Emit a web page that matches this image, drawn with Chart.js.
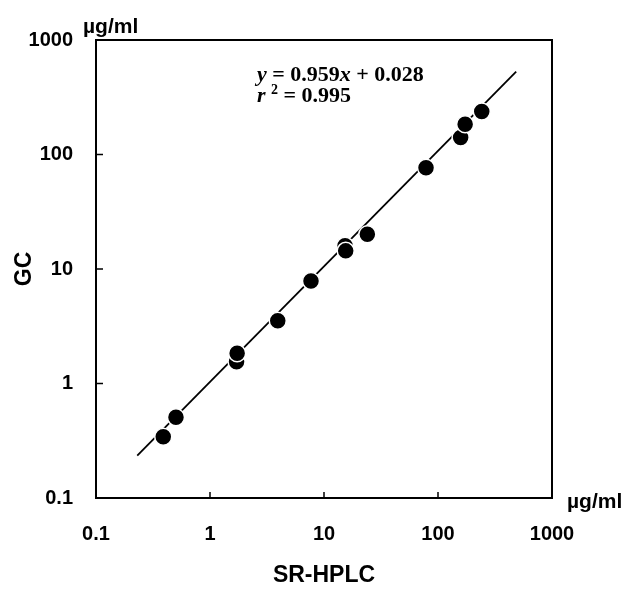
<!DOCTYPE html>
<html lang="en">
<head>
<meta charset="UTF-8">
<title>GC vs SR-HPLC</title>
<script src="https://cdn.jsdelivr.net/npm/chart.js@4"></script>
<style>
    body {
        margin: 0;
        background: #ffffff;
    }
    #chart-container {
        width: 626px;
        height: 590px;
    }
</style>
</head>
<body>
<div id="chart-container">
    <canvas id="gcChart"></canvas>
</div>
<script>
    // values (ug/ml)
    const hplcValues = [0.389, 0.503, 1.71, 1.73, 3.93, 7.69, 15.3, 15.5, 24.0, 78.5, 158, 173, 242];
    const gcValues   = [0.343, 0.507, 1.55, 1.84, 3.53, 7.86, 16.0, 14.4, 20.1, 76.7, 141, 184, 237];

    // ends of the regression line as drawn
    const fitX = [0.23, 485];
    const fitY = [0.235, 530];

    const tickValues = [0.1, 1, 10, 100, 1000];
    const tickLabels = ['0.1', '1', '10', '100', '1000'];

    const unitLabel = 'µg/ml';

    const points = hplcValues.map((x, i) => ({ x: x, y: gcValues[i] }));
    const fitLine = fitX.map((x, i) => ({ x: x, y: fitY[i] }));

    const tickFont = { family: '"Liberation Sans", Arial, sans-serif', size: 20, weight: 'bold' };
    const titleFont = { family: '"Liberation Sans", Arial, sans-serif', size: 23, weight: 'bold' };

    function decadeTicks(scale) {
        scale.ticks = tickValues.map(v => ({ value: v }));
    }
    function tickText(value) {
        const i = tickValues.indexOf(value);
        return i >= 0 ? tickLabels[i] : '';
    }

    // box frame, inward ticks, unit labels and the equation
    const extras = {
        id: 'extras',
        afterDraw(chart) {
            const ctx = chart.ctx;
            const area = chart.chartArea;
            const xs = chart.scales.x;
            const ys = chart.scales.y;
            ctx.save();
            ctx.strokeStyle = '#000';
            ctx.lineWidth = 2;
            ctx.strokeRect(area.left, area.top, area.right - area.left, area.bottom - area.top);

            ctx.lineWidth = 1.5;
            ctx.beginPath();
            tickValues.slice(1, -1).forEach(v => {
                const px = xs.getPixelForValue(v);
                ctx.moveTo(px, area.bottom);
                ctx.lineTo(px, area.bottom - 6);
                const py = ys.getPixelForValue(v);
                ctx.moveTo(area.left, py);
                ctx.lineTo(area.left + 7, py);
            });
            ctx.stroke();

            ctx.fillStyle = '#000';
            ctx.font = 'bold 21px "Liberation Sans", Arial, sans-serif';
            ctx.textBaseline = 'alphabetic';
            ctx.textAlign = 'left';
            ctx.fillText(unitLabel, area.left - 13, area.top - 7);
            ctx.fillText(unitLabel, area.right + 15, area.bottom + 10);

            // equation, Times-like bold
            const serif = '"Liberation Serif", "Times New Roman", serif';
            const bold = 'bold 22px ' + serif;
            const boldItalic = 'italic bold 22px ' + serif;
            let x = area.left + 161;
            let y = area.top + 41;
            const parts1 = [[boldItalic, 'y'], [bold, ' = 0.959'], [boldItalic, 'x'], [bold, ' + 0.028']];
            parts1.forEach(p => {
                ctx.font = p[0];
                ctx.fillText(p[1], x, y);
                x += ctx.measureText(p[1]).width;
            });
            x = area.left + 161;
            y += 21;
            ctx.font = boldItalic;
            ctx.fillText('r', x, y);
            x += ctx.measureText('r ').width;
            ctx.font = 'bold 14px ' + serif;
            ctx.fillText('2', x, y - 8);
            x += ctx.measureText('2').width;
            ctx.font = bold;
            ctx.fillText(' = 0.995', x, y);
            ctx.restore();
        }
    };

    const ctx = document.getElementById('gcChart').getContext('2d');
    new Chart(ctx, {
        type: 'scatter',
        data: {
            datasets: [{
                label: 'Samples',
                data: points,
                backgroundColor: '#000',
                borderColor: '#fff',
                borderWidth: 1.5,
                pointRadius: 8.5,
                pointHoverRadius: 8.5,
                order: 0
            }, {
                label: 'Regression',
                data: fitLine,
                showLine: true,
                borderColor: '#000',
                borderWidth: 1.8,
                pointRadius: 0,
                order: 1
            }]
        },
        options: {
            responsive: true,
            maintainAspectRatio: false,
            animation: false,
            layout: {
                padding: { top: 40, right: 74, bottom: 0, left: 0 }
            },
            plugins: {
                legend: { display: false },
                tooltip: { enabled: false }
            },
            scales: {
                x: {
                    type: 'logarithmic',
                    position: 'bottom',
                    min: 0.1,
                    max: 1000,
                    afterBuildTicks: decadeTicks,
                    afterFit: scale => { scale.height = 92; },
                    grid: { display: false, drawTicks: false },
                    border: { display: false },
                    ticks: {
                        callback: tickText,
                        font: tickFont,
                        color: '#000',
                        padding: 24,
                        maxRotation: 0,
                        autoSkip: false
                    },
                    title: {
                        display: true,
                        text: 'SR-HPLC',
                        font: titleFont,
                        color: '#000',
                        padding: { top: 0, bottom: 1 }
                    }
                },
                y: {
                    type: 'logarithmic',
                    position: 'left',
                    min: 0.1,
                    max: 1000,
                    afterBuildTicks: decadeTicks,
                    afterFit: scale => { scale.width = 96; },
                    grid: { display: false, drawTicks: false },
                    border: { display: false },
                    ticks: {
                        callback: tickText,
                        font: tickFont,
                        color: '#000',
                        padding: 23,
                        autoSkip: false
                    },
                    title: {
                        display: true,
                        text: 'GC',
                        font: titleFont,
                        color: '#000',
                        padding: { top: 11, bottom: 0 }
                    }
                }
            }
        },
        plugins: [extras]
    });
</script>
</body>
</html>
